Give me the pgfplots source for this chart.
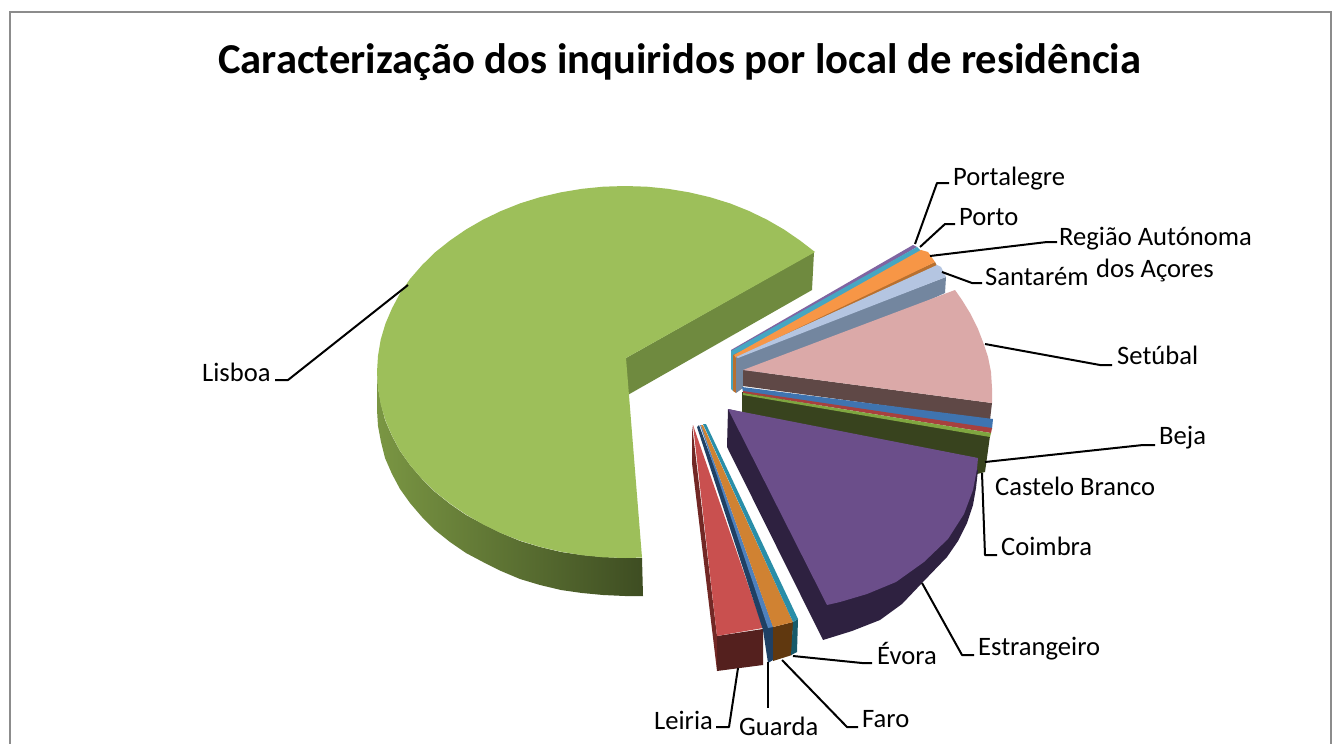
\documentclass[border=0pt]{standalone}
\usepackage{fontspec}
\setmainfont{Carlito}
\usepackage{pgfplots}
\pgfplotsset{compat=1.18}
\definecolor{frameg}{HTML}{8C8C8C}
\definecolor{lisboa}{HTML}{9DBF5A}
\definecolor{lisboaW}{HTML}{6F8A3F}
\definecolor{lisboaL}{HTML}{7A9643}
\definecolor{lisboaD}{HTML}{3E4D22}
\definecolor{roxoP}{HTML}{8064A2}
\definecolor{teal1}{HTML}{46A6C2}
\definecolor{laranja}{HTML}{F79646}
\definecolor{laranjaD}{HTML}{B8702F}
\definecolor{azulC}{HTML}{B4C5E1}
\definecolor{azulW}{HTML}{73869F}
\definecolor{setubal}{HTML}{DBA9A8}
\definecolor{setubalW}{HTML}{5F4846}
\definecolor{beja}{HTML}{3F74B0}
\definecolor{castelo}{HTML}{A8403E}
\definecolor{coimbraT}{HTML}{7FA640}
\definecolor{coimbraW}{HTML}{38431E}
\definecolor{estr}{HTML}{6B4E8A}
\definecolor{estrW}{HTML}{2E2140}
\definecolor{leiria}{HTML}{C9504F}
\definecolor{leiriaW}{HTML}{54201E}
\definecolor{leiriaL}{HTML}{722825}
\definecolor{guarda}{HTML}{4F81BD}
\definecolor{guardaW}{HTML}{1F4064}
\definecolor{faro}{HTML}{D08232}
\definecolor{faroW}{HTML}{60380F}
\definecolor{evora}{HTML}{2A8EA8}
\definecolor{evoraW}{HTML}{175A6A}
\tikzset{
  leader/.style={draw=black, line width=2pt, line join=round},
  lab/.style={font=\fontsize{26.6}{32}\selectfont, anchor=base west, inner sep=0pt},
}
\begin{document}
\begin{tikzpicture}
\begin{axis}[
  scale only axis, width=1341pt, height=744pt,
  xmin=0, xmax=1341, ymin=0, ymax=744, y dir=reverse,
  hide axis, clip=true,
  every axis plot/.append style={no marks, draw=none},
]
% fundo: fixa o tamanho da figura
\addplot[fill=white] coordinates {(0,0) (1341,0) (1341,744) (0,744)} --cycle;
% frame
\addplot[draw=frameg, line width=1.6pt] coordinates {(10,760) (10,12) (1331,12) (1331,760)};

% Lisboa
\addplot[left color=lisboaL, right color=lisboaD] coordinates {
  (377,372) (378,388) (381,404) (385,420) (392,436) (400,451) (410,465) (422,479) (435,492) (450,504)
  (466,515) (483,524) (501,533) (520,541) (540,547) (561,552) (582,555) (603,557) (625,558) (642,558)
  (643,596) (625,596) (603,595) (582,593) (561,590) (540,585) (520,579) (501,571) (483,562) (466,553)
  (450,542) (435,530) (422,517) (410,503) (400,489) (392,474) (385,458) (381,442) (378,426) (377,410)} --cycle;
\addplot[fill=lisboaW] coordinates {(626,358) (814,252) (812,290) (626,396)} --cycle;
\addplot[fill=lisboa] coordinates {
  (815,252) (800,240.5) (784,229.5) (767,219.7) (749,211) (730,203.4) (710,197.2) (689,192.3) (668,188.8) (647,186.7)
  (625,186) (603,186.7) (582,188.8) (561,192.3) (540,197.2) (520,203.4) (501,211) (483,219.7) (466,229.5) (450,240.5)
  (435,252.4) (422,265.2) (410,279) (400,293.3) (392,308.4) (385.4,323.8) (380.7,339.6) (378,355.8) (377,372) (378,388.2)
  (380.7,404.4) (385.4,420.2) (392,435.6) (400,450.7) (410,465) (422,478.8) (435,491.6) (450,503.5) (466,514.5) (483,524.3)
  (501,533.1) (520,540.6) (540,546.8) (561,551.7) (582,555.2) (603,557.3) (625,558) (642,557.6) (626,358)} --cycle;

% fatias superiores
\addplot[fill=roxoP] coordinates {(731,350) (913,245) (917,247) (733,353) (732,390)} --cycle;
\addplot[fill=teal1] coordinates {(731,351) (917,247) (921,251) (733,356) (733,391) (731,389)} --cycle;
\addplot[fill=laranjaD] coordinates {(733,355) (935,262) (937,266) (736,360) (736,393) (733,391)} --cycle;
\addplot[fill=laranja] coordinates {(734,355) (921,250) (928,252) (935,262) (736,358)} --cycle;
\addplot[fill=azulW] coordinates {(736,357) (946,277) (945,293) (743,385) (743,388) (736,393)} --cycle;
\addplot[fill=azulC] coordinates {(736,357) (937,265) (941,267) (946,277) (738,358)} --cycle;
\addplot[fill=setubalW] coordinates {(743,370) (992,403) (990,420) (743,386)} --cycle;
\addplot[fill=setubal] coordinates {
  (743,370) (955,290) (962,300) (970,313) (978,329) (983,342) (988,357) (991,372) (992,388) (992,403)} --cycle;

% Coimbra, Castelo Branco, Beja
\addplot[fill=coimbraW] coordinates {(742,392) (990,436) (985,472) (977,474) (976,458) (742,413)} --cycle;
\addplot[fill=beja] coordinates {(742,387) (993,419) (992,429) (743,392)} --cycle;
\addplot[fill=castelo] coordinates {(743,391) (992,428) (991,433) (743,393)} --cycle;
\addplot[fill=coimbraT] coordinates {(743,393) (991,433) (990,437) (743,395)} --cycle;

% Estrangeiro
\addplot[fill=estrW] coordinates {
  (728,409) (727,447) (823,640) (852,631) (880,620) (902,604) (922,583) (947,557) (958,541) (967,523) (973,505) (976,488) (978,470)} --cycle;
\addplot[fill=estr] coordinates {
  (728,409) (978,458) (977,469) (973,490) (964,514) (948,539) (924,562) (896,582) (867,594) (840,602) (827,605)} --cycle;

% Leiria, Guarda, Faro, Évora
\addplot[fill=leiriaL] coordinates {(692,425) (692,463) (717,671) (717,636)} --cycle;
\addplot[fill=leiriaW] coordinates {(717,636) (763,629) (763,665) (717,671)} --cycle;
\addplot[fill=leiria] coordinates {(693,425) (763,628) (717,636)} --cycle;
\addplot[fill=guardaW] coordinates {(697,427) (699,425) (773,627) (773,660) (768,663) (763,630)} --cycle;
\addplot[fill=guarda] coordinates {(700,425) (768,628) (773,627) (701,425)} --cycle;
\addplot[fill=faroW] coordinates {(773,627) (793,622) (792,655) (773,661)} --cycle;
\addplot[fill=faro] coordinates {(701,425) (773,627) (793,622) (703,425)} --cycle;
\addplot[fill=evoraW] coordinates {(793,622) (798,619) (797,652) (791,655)} --cycle;
\addplot[fill=evora] coordinates {(703,424) (793,622) (798,619) (706,424)} --cycle;

% linhas de chamada
\addplot[leader] coordinates {(915,244) (937,183) (949,183)};
\addplot[leader] coordinates {(920,247) (945,224) (955,224)};
\addplot[leader] coordinates {(930,256) (1047,242) (1057,242)};
\addplot[leader] coordinates {(942,272) (972,283) (982,283)};
\addplot[leader] coordinates {(985,344) (1100,365) (1112,365)};
\addplot[leader] coordinates {(985,462) (1143,445) (1155,445)};
\addplot[leader] coordinates {(982,473) (985,555) (997,555)};
\addplot[leader] coordinates {(922,583) (962,655) (974,655)};
\addplot[leader] coordinates {(793,656) (862,663) (872,663)};
\addplot[leader] coordinates {(782,660) (847,727) (858,727)};
\addplot[leader] coordinates {(768,662) (768,708)};
\addplot[leader] coordinates {(738,668) (729,727) (716,727)};
\addplot[leader] coordinates {(408,285) (288,380) (275,380)};

% textos
\node[font=\bfseries\fontsize{42.6}{50}\selectfont, anchor=base west, inner sep=0pt] at (axis cs:218,73) {Caracterização dos inquiridos por local de residência};
\node[lab] at (axis cs:953,185) {Portalegre};
\node[lab] at (axis cs:959,225) {Porto};
\node[lab] at (axis cs:1059,245) {Região Autónoma};
\node[lab] at (axis cs:1096,277) {dos Açores};
\node[lab] at (axis cs:985,285) {Santarém};
\node[lab] at (axis cs:1117,364) {Setúbal};
\node[lab] at (axis cs:1159,444) {Beja};
\node[lab] at (axis cs:995,495) {Castelo Branco};
\node[lab] at (axis cs:1001,555) {Coimbra};
\node[lab] at (axis cs:978,655) {Estrangeiro};
\node[lab] at (axis cs:877,664) {Évora};
\node[lab] at (axis cs:862,727) {Faro};
\node[lab] at (axis cs:739,735) {Guarda};
\node[lab] at (axis cs:654,729) {Leiria};
\node[lab] at (axis cs:202,381) {Lisboa};
\end{axis}
\end{tikzpicture}
\end{document}
